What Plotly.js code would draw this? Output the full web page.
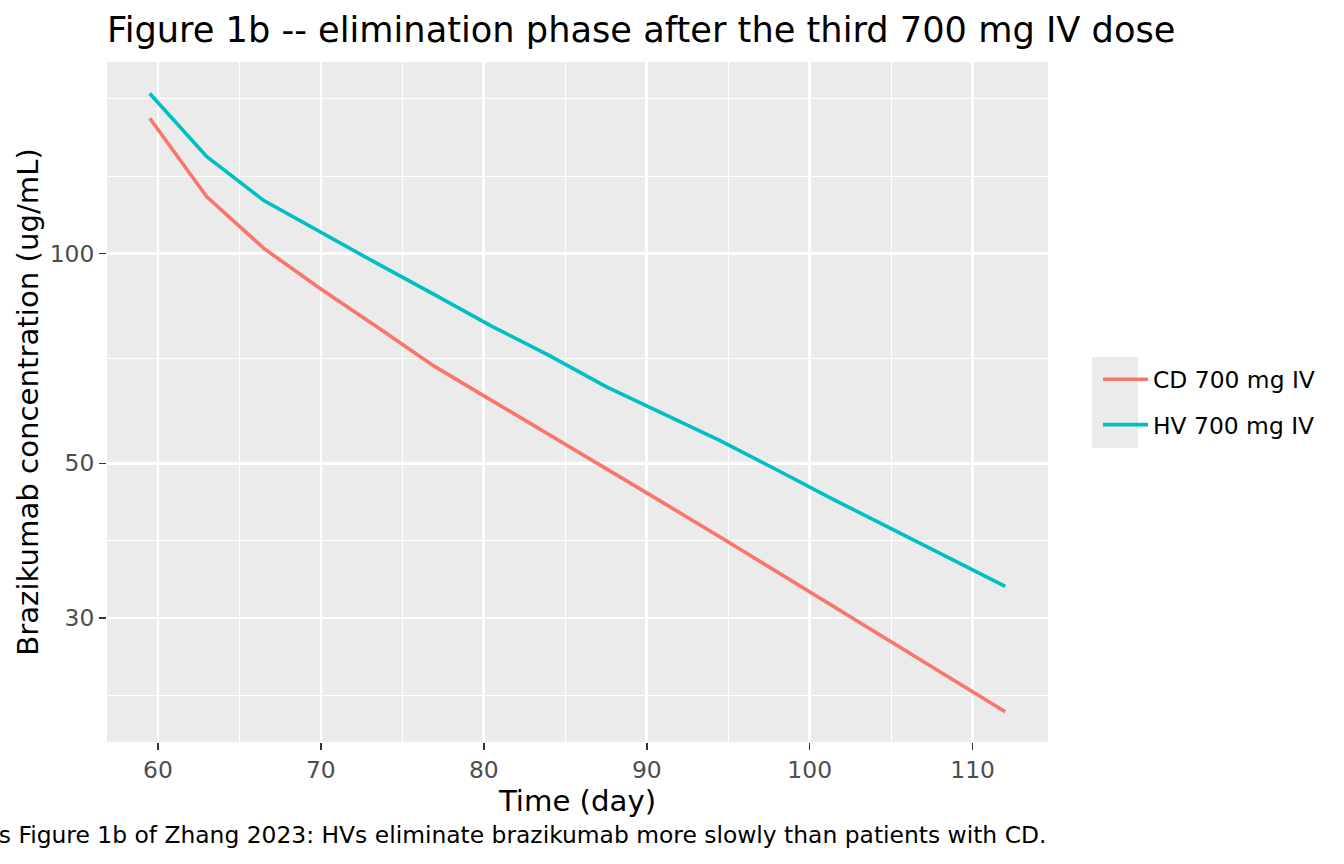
<!DOCTYPE html>
<html>
<head>
<meta charset="utf-8">
<script src="https://cdn.plot.ly/plotly-3.0.1.min.js"></script>
<style>
  html, body { margin: 0; padding: 0; background: #ffffff; }
  #chart { width: 1344px; height: 864px; }
</style>
</head>
<body>
<div id="chart"></div>
<script>
// days after first dose (elimination after 3rd dose)
var timeDay = [59.5, 63, 66.5, 70, 73.5, 77, 80.5, 84, 87.5, 91, 94.5, 98, 101.5, 105, 108.5, 112];
// concentrations, ug/mL
var cdConc = [156.3, 120.6, 101.7, 88.9, 78.3, 68.8, 61.5, 55.0, 49.2, 43.9, 39.2, 34.9, 31.1, 27.7, 24.7, 22.0];
var hvConc = [169.6, 137.7, 119.1, 107.1, 96.6, 87.2, 78.6, 71.4, 64.4, 58.9, 53.9, 48.9, 44.3, 40.3, 36.6, 33.3];
var seriesNames = ["CD 700 mg IV", "HV 700 mg IV"];

var xTicks = [60, 70, 80, 90, 100, 110];
var xMinor = [65, 75, 85, 95, 105];
var yTicks = [30, 50, 100];
var yMinor = [23.24, 38.73, 70.71, 129.1, 166.7];

var font = "DejaVu Sans, Liberation Sans, sans-serif";

var traces = [
    {
        type: "scatter",
        mode: "lines",
        x: timeDay,
        y: cdConc,
        name: seriesNames[0],
        legendgroup: "cd",
        line: { color: "#F8766D", width: 3.6 }
    },
    {
        type: "scatter",
        mode: "lines",
        x: timeDay,
        y: hvConc,
        name: seriesNames[1],
        legendgroup: "hv",
        line: { color: "#00BFC4", width: 3.6 }
    }
];

var layout = {
    width: 1344,
    height: 864,
    margin: { l: 107, r: 296, t: 62, b: 122 },
    paper_bgcolor: "#ffffff",
    plot_bgcolor: "#EBEBEB",
    font: { family: font, size: 23.4, color: "#000000" },
    title: {
        text: "Figure 1b -- elimination phase after the third 700 mg IV dose",
        font: { family: font, size: 35.2, color: "#000000" },
        xref: "paper",
        x: 0,
        xanchor: "left",
        yref: "container",
        y: 1 - 30 / 864,
        yanchor: "middle"
    },
    xaxis: {
        range: [56.875, 114.625],
        tickmode: "array",
        tickvals: xTicks,
        ticktext: xTicks.map(String),
        ticks: "outside",
        ticklen: 7,
        tickwidth: 1.5,
        tickcolor: "#333333",
        tickfont: { family: font, size: 23.4, color: "#4D4D4D" },
        showgrid: true,
        gridcolor: "#FFFFFF",
        gridwidth: 2.7,
        minor: { tickmode: "array", tickvals: xMinor, showgrid: true, gridcolor: "#FFFFFF", gridwidth: 1.3, ticks: "" },
        zeroline: false,
        showline: false,
        title: { text: "Time (day)", font: { family: font, size: 29.2, color: "#000000" }, standoff: 2 },
        automargin: false
    },
    yaxis: {
        type: "log",
        range: [1.2991, 2.2747],
        tickmode: "array",
        tickvals: yTicks,
        ticktext: yTicks.map(String),
        ticks: "outside",
        ticklen: 7,
        tickwidth: 1.5,
        tickcolor: "#333333",
        tickfont: { family: font, size: 23.4, color: "#4D4D4D" },
        showgrid: true,
        gridcolor: "#FFFFFF",
        gridwidth: 2.7,
        minor: { tickmode: "array", tickvals: yMinor, showgrid: true, gridcolor: "#FFFFFF", gridwidth: 1.3, ticks: "" },
        zeroline: false,
        showline: false,
        title: { text: "Brazikumab concentration (ug/mL)", font: { family: font, size: 29.2, color: "#000000" }, standoff: 2 },
        automargin: false
    },
    showlegend: true,
    legend: {
        x: (1098 - 107) / 941,
        xanchor: "left",
        y: 0.5,
        yanchor: "middle",
        bgcolor: "rgba(0,0,0,0)",
        font: { family: font, size: 23.4, color: "#000000" },
        tracegroupgap: 12,
        itemwidth: 45
    },
    shapes: [
        // grey key background of the legend
        {
            type: "rect", xref: "paper", yref: "paper", layer: "below",
            x0: (1092 - 107) / 941, x1: (1138 - 107) / 941,
            y0: (742 - 448) / 680, y1: (742 - 357) / 680,
            fillcolor: "#EBEBEB", line: { width: 0 }
        }
    ],
    annotations: [
        {
            text: "Reproduces Figure 1b of Zhang 2023: HVs eliminate brazikumab more slowly than patients with CD.",
            xref: "paper", yref: "paper",
            x: 1, xanchor: "right",
            y: -(835 - 742) / 680, yanchor: "middle",
            showarrow: false,
            font: { family: font, size: 23.4, color: "#000000" }
        }
    ]
};

Plotly.newPlot("chart", traces, layout, { displayModeBar: false, staticPlot: true });
</script>
</body>
</html>
